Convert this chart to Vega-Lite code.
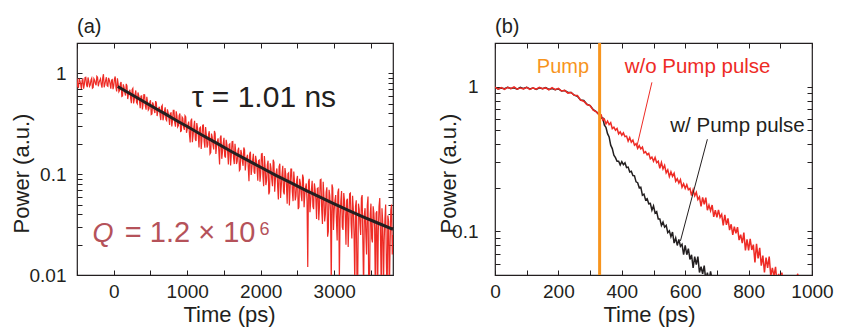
{
"$schema": "https://vega.github.io/schema/vega-lite/v6.json",
"background": "white",
"padding": {"left": 9, "top": 16, "right": 26, "bottom": 3},
"config": {
 "font": "Liberation Sans",
 "view": {"stroke": "#231f20", "strokeWidth": 1.2},
 "axis": {"domain": false, "grid": false, "tickColor": "#231f20", "tickWidth": 1, "tickSize": -5, "labelColor": "#231f20", "titleColor": "#231f20", "labelFont": "Liberation Sans", "titleFont": "Liberation Sans", "labelFontSize": 19, "titleFontSize": 22, "titleFontWeight": "normal", "labelOverlap": false, "labelFlush": false, "labelBound": false},
 "title": {"font": "Liberation Sans", "fontSize": 20, "fontWeight": "normal", "color": "#231f20", "anchor": "start", "frame": "group", "offset": 8, "dy": 11}
},
"datasets": {
 "a_trace": [
{"t":-500,"p":0.894},{"t":-490,"p":0.738},{"t":-480,"p":0.727},{"t":-470,"p":0.883},{"t":-460,"p":0.842},{"t":-450,"p":0.781},{"t":-440,"p":0.700},{"t":-430,"p":0.859},{"t":-420,"p":0.873},{"t":-410,"p":0.705},{"t":-400,"p":0.778},{"t":-390,"p":0.910},{"t":-380,"p":0.915},{"t":-370,"p":0.770},{"t":-360,"p":0.730},{"t":-350,"p":0.910},{"t":-340,"p":0.836},{"t":-330,"p":0.743},{"t":-320,"p":0.767},{"t":-310,"p":0.863},{"t":-300,"p":0.895},{"t":-290,"p":0.713},{"t":-280,"p":0.724},{"t":-270,"p":0.886},{"t":-260,"p":0.857},{"t":-250,"p":0.793},{"t":-240,"p":0.761},{"t":-230,"p":0.935},{"t":-220,"p":0.916},{"t":-210,"p":0.744},{"t":-200,"p":0.808},{"t":-190,"p":0.852},{"t":-180,"p":0.884},{"t":-170,"p":0.776},{"t":-160,"p":0.722},{"t":-150,"p":0.902},{"t":-140,"p":0.98},{"t":-130,"p":0.728},{"t":-120,"p":0.782},{"t":-110,"p":0.854},{"t":-100,"p":0.916},{"t":-90,"p":0.756},{"t":-80,"p":0.745},{"t":-70,"p":0.902},{"t":-60,"p":0.857},{"t":-50,"p":0.791},{"t":-40,"p":0.705},{"t":-30,"p":0.859},{"t":-20,"p":0.868},{"t":-10,"p":0.698},
{"t":0,"p":0.757},{"t":10,"p":0.88},{"t":20,"p":0.932},{"t":30,"p":0.726},{"t":40,"p":0.663},{"t":50,"p":0.891},{"t":60,"p":0.787},{"t":70,"p":0.657},{"t":80,"p":0.678},{"t":90,"p":0.790},{"t":100,"p":0.822},{"t":110,"p":0.590},{"t":120,"p":0.597},{"t":130,"p":0.779},{"t":140,"p":0.731},{"t":150,"p":0.648},{"t":160,"p":0.603},{"t":170,"p":0.787},{"t":180,"p":0.753},{"t":190,"p":0.556},{"t":200,"p":0.619},{"t":210,"p":0.659},{"t":220,"p":0.687},{"t":230,"p":0.568},{"t":240,"p":0.507},{"t":250,"p":0.689},{"t":260,"p":0.710},{"t":270,"p":0.503},{"t":280,"p":0.551},{"t":290,"p":0.620},{"t":300,"p":0.677},{"t":310,"p":0.515},{"t":320,"p":0.500},{"t":330,"p":0.647},{"t":340,"p":0.601},{"t":350,"p":0.535},{"t":360,"p":0.451},{"t":370,"p":0.594},{"t":380,"p":0.598},{"t":390,"p":0.438},{"t":400,"p":0.500},{"t":410,"p":0.614},{"t":420,"p":0.612},{"t":430,"p":0.477},{"t":440,"p":0.436},{"t":450,"p":0.586},{"t":460,"p":0.517},{"t":470,"p":0.432},{"t":480,"p":0.445},{"t":490,"p":0.519},
{"t":500,"p":0.540},{"t":510,"p":0.390},{"t":520,"p":0.395},{"t":530,"p":0.516},{"t":540,"p":0.487},{"t":550,"p":0.432},{"t":560,"p":0.404},{"t":570,"p":0.530},{"t":580,"p":0.509},{"t":590,"p":0.377},{"t":600,"p":0.420},{"t":610,"p":0.448},{"t":620,"p":0.467},{"t":630,"p":0.386},{"t":640,"p":0.344},{"t":650,"p":0.468},{"t":660,"p":0.482},{"t":670,"p":0.342},{"t":680,"p":0.375},{"t":690,"p":0.422},{"t":700,"p":0.460},{"t":710,"p":0.350},{"t":720,"p":0.340},{"t":730,"p":0.440},{"t":740,"p":0.408},{"t":750,"p":0.363},{"t":760,"p":0.307},{"t":770,"p":0.403},{"t":780,"p":0.406},{"t":790,"p":0.297},{"t":800,"p":0.340},{"t":810,"p":0.43},{"t":820,"p":0.43},{"t":830,"p":0.324},{"t":840,"p":0.296},{"t":850,"p":0.42},{"t":860,"p":0.38},{"t":870,"p":0.294},{"t":880,"p":0.303},{"t":890,"p":0.38},{"t":900,"p":0.40},{"t":910,"p":0.265},{"t":920,"p":0.268},{"t":930,"p":0.37},{"t":940,"p":0.36},{"t":950,"p":0.294},{"t":960,"p":0.275},{"t":970,"p":0.38},{"t":980,"p":0.37},{"t":990,"p":0.257},
{"t":1000,"p":0.280},{"t":1010,"p":0.310},{"t":1020,"p":0.332},{"t":1030,"p":0.248},{"t":1040,"p":0.206},{"t":1050,"p":0.338},{"t":1060,"p":0.356},{"t":1070,"p":0.208},{"t":1080,"p":0.244},{"t":1090,"p":0.295},{"t":1100,"p":0.338},{"t":1110,"p":0.222},{"t":1120,"p":0.213},{"t":1130,"p":0.321},{"t":1140,"p":0.289},{"t":1150,"p":0.243},{"t":1160,"p":0.184},{"t":1170,"p":0.287},{"t":1180,"p":0.292},{"t":1190,"p":0.178},{"t":1200,"p":0.224},{"t":1210,"p":0.306},{"t":1220,"p":0.307},{"t":1230,"p":0.211},{"t":1240,"p":0.183},{"t":1250,"p":0.293},{"t":1260,"p":0.245},{"t":1270,"p":0.184},{"t":1280,"p":0.195},{"t":1290,"p":0.250},{"t":1300,"p":0.267},{"t":1310,"p":0.159},{"t":1320,"p":0.164},{"t":1330,"p":0.253},{"t":1340,"p":0.233},{"t":1350,"p":0.195},{"t":1360,"p":0.176},{"t":1370,"p":0.268},{"t":1380,"p":0.253},{"t":1390,"p":0.159},{"t":1400,"p":0.192},{"t":1410,"p":0.212},{"t":1420,"p":0.227},{"t":1430,"p":0.169},{"t":1440,"p":0.125},{"t":1450,"p":0.231},{"t":1460,"p":0.242},{"t":1470,"p":0.142},{"t":1480,"p":0.167},{"t":1490,"p":0.202},
{"t":1500,"p":0.230},{"t":1510,"p":0.151},{"t":1520,"p":0.146},{"t":1530,"p":0.219},{"t":1540,"p":0.197},{"t":1550,"p":0.166},{"t":1560,"p":0.125},{"t":1570,"p":0.197},{"t":1580,"p":0.200},{"t":1590,"p":0.122},{"t":1600,"p":0.154},{"t":1610,"p":0.210},{"t":1620,"p":0.211},{"t":1630,"p":0.145},{"t":1640,"p":0.126},{"t":1650,"p":0.200},{"t":1660,"p":0.168},{"t":1670,"p":0.126},{"t":1680,"p":0.134},{"t":1690,"p":0.171},{"t":1700,"p":0.183},{"t":1710,"p":0.109},{"t":1720,"p":0.112},{"t":1730,"p":0.174},{"t":1740,"p":0.160},{"t":1750,"p":0.134},{"t":1760,"p":0.121},{"t":1770,"p":0.184},{"t":1780,"p":0.174},{"t":1790,"p":0.109},{"t":1800,"p":0.132},{"t":1810,"p":0.146},{"t":1820,"p":0.156},{"t":1830,"p":0.117},{"t":1840,"p":0.085},{"t":1850,"p":0.159},{"t":1860,"p":0.167},{"t":1870,"p":0.098},{"t":1880,"p":0.115},{"t":1890,"p":0.139},{"t":1900,"p":0.159},{"t":1910,"p":0.105},{"t":1920,"p":0.101},{"t":1930,"p":0.152},{"t":1940,"p":0.137},{"t":1950,"p":0.114},{"t":1960,"p":0.086},{"t":1970,"p":0.136},{"t":1980,"p":0.138},{"t":1990,"p":0.084},
{"t":2000,"p":0.102},{"t":2010,"p":0.159},{"t":2020,"p":0.160},{"t":2030,"p":0.095},{"t":2040,"p":0.076},{"t":2050,"p":0.151},{"t":2060,"p":0.119},{"t":2070,"p":0.078},{"t":2080,"p":0.086},{"t":2090,"p":0.124},{"t":2100,"p":0.136},{"t":2110,"p":0.063},{"t":2120,"p":0.067},{"t":2130,"p":0.128},{"t":2140,"p":0.114},{"t":2150,"p":0.089},{"t":2160,"p":0.076},{"t":2170,"p":0.139},{"t":2180,"p":0.131},{"t":2190,"p":0.067},{"t":2200,"p":0.089},{"t":2210,"p":0.104},{"t":2220,"p":0.114},{"t":2230,"p":0.076},{"t":2240,"p":0.056},{"t":2250,"p":0.119},{"t":2260,"p":0.127},{"t":2270,"p":0.058},{"t":2280,"p":0.076},{"t":2290,"p":0.100},{"t":2300,"p":0.121},{"t":2310,"p":0.067},{"t":2320,"p":0.063},{"t":2330,"p":0.115},{"t":2340,"p":0.100},{"t":2350,"p":0.078},{"t":2360,"p":0.051},{"t":2370,"p":0.101},{"t":2380,"p":0.103},{"t":2390,"p":0.049},{"t":2400,"p":0.072},{"t":2410,"p":0.112},{"t":2420,"p":0.112},{"t":2430,"p":0.067},{"t":2440,"p":0.054},{"t":2450,"p":0.106},{"t":2460,"p":0.084},{"t":2470,"p":0.055},{"t":2480,"p":0.061},{"t":2490,"p":0.088},
{"t":2500,"p":0.096},{"t":2510,"p":0.045},{"t":2520,"p":0.047},{"t":2530,"p":0.090},{"t":2540,"p":0.081},{"t":2550,"p":0.063},{"t":2560,"p":0.054},{"t":2570,"p":0.099},{"t":2580,"p":0.092},{"t":2590,"p":0.047},{"t":2600,"p":0.063},{"t":2610,"p":0.074},{"t":2620,"p":0.081},{"t":2630,"p":0.054},{"t":2640,"p":0.012},{"t":2650,"p":0.084},{"t":2660,"p":0.090},{"t":2670,"p":0.042},{"t":2680,"p":0.054},{"t":2690,"p":0.071},{"t":2700,"p":0.086},{"t":2710,"p":0.048},{"t":2720,"p":0.045},{"t":2730,"p":0.081},{"t":2740,"p":0.071},{"t":2750,"p":0.056},{"t":2760,"p":0.036},{"t":2770,"p":0.072},{"t":2780,"p":0.073},{"t":2790,"p":0.035},{"t":2800,"p":0.049},{"t":2810,"p":0.088},{"t":2820,"p":0.089},{"t":2830,"p":0.044},{"t":2840,"p":0.032},{"t":2850,"p":0.084},{"t":2860,"p":0.061},{"t":2870,"p":0.034},{"t":2880,"p":0.040},{"t":2890,"p":0.066},{"t":2900,"p":0.074},{"t":2910,"p":0.024},{"t":2920,"p":0.027},{"t":2930,"p":0.070},{"t":2940,"p":0.061},{"t":2950,"p":0.043},{"t":2960,"p":0.008},{"t":2970,"p":0.079},{"t":2980,"p":0.073},{"t":2990,"p":0.028},
{"t":3000,"p":0.044},{"t":3010,"p":0.055},{"t":3020,"p":0.062},{"t":3030,"p":0.035},{"t":3040,"p":0.022},{"t":3050,"p":0.066},{"t":3060,"p":0.072},{"t":3070,"p":0.009},{"t":3080,"p":0.036},{"t":3090,"p":0.054},{"t":3100,"p":0.068},{"t":3110,"p":0.030},{"t":3120,"p":0.028},{"t":3130,"p":0.065},{"t":3140,"p":0.054},{"t":3150,"p":0.039},{"t":3160,"p":0.020},{"t":3170,"p":0.055},{"t":3180,"p":0.057},{"t":3190,"p":0.019},{"t":3200,"p":0.035},{"t":3210,"p":0.064},{"t":3220,"p":0.065},{"t":3230,"p":0.032},{"t":3240,"p":0.023},{"t":3250,"p":0.061},{"t":3260,"p":0.045},{"t":3270,"p":0.025},{"t":3280,"p":0.008},{"t":3290,"p":0.048},{"t":3300,"p":0.055},{"t":3310,"p":0.008},{"t":3320,"p":0.009},{"t":3330,"p":0.051},{"t":3340,"p":0.045},{"t":3350,"p":0.032},{"t":3360,"p":0.025},{"t":3370,"p":0.058},{"t":3380,"p":0.062},{"t":3390,"p":0.021},{"t":3400,"p":0.007},{"t":3410,"p":0.040},{"t":3420,"p":0.046},{"t":3430,"p":0.026},{"t":3440,"p":0.016},{"t":3450,"p":0.049},{"t":3460,"p":0.060},{"t":3470,"p":0.007},{"t":3480,"p":0.006},{"t":3490,"p":0.040},
{"t":3500,"p":0.051},{"t":3510,"p":0.023},{"t":3520,"p":0.021},{"t":3530,"p":0.048},{"t":3540,"p":0.041},{"t":3550,"p":0.029},{"t":3560,"p":0.006},{"t":3570,"p":0.041},{"t":3580,"p":0.043},{"t":3590,"p":0.006},{"t":3600,"p":0.027},{"t":3610,"p":0.048},{"t":3620,"p":0.058},{"t":3630,"p":0.024},{"t":3640,"p":0.007},{"t":3650,"p":0.046},{"t":3660,"p":0.034},{"t":3670,"p":0.007},{"t":3680,"p":0.022},{"t":3690,"p":0.036},{"t":3700,"p":0.050},{"t":3710,"p":0.013},{"t":3720,"p":0.006},{"t":3730,"p":0.039},{"t":3740,"p":0.034},{"t":3750,"p":0.006},{"t":3760,"p":0.019},{"t":3770,"p":0.044},{"t":3780,"p":0.050},{"t":3790,"p":0.016},{"t":3800,"p":0.025}
 ],
 "a_fit": [
{"t":55,"p":0.74},{"t":100,"p":0.708},{"t":200,"p":0.642},{"t":300,"p":0.583},{"t":400,"p":0.529},{"t":500,"p":0.480},{"t":600,"p":0.436},{"t":700,"p":0.396},{"t":800,"p":0.359},{"t":900,"p":0.326},{"t":1000,"p":0.297},{"t":1200,"p":0.245},{"t":1400,"p":0.203},{"t":1600,"p":0.168},{"t":1800,"p":0.140},{"t":2000,"p":0.117},{"t":2200,"p":0.098},{"t":2400,"p":0.083},{"t":2600,"p":0.070},{"t":2800,"p":0.0595},{"t":3000,"p":0.0508},{"t":3200,"p":0.0436},{"t":3400,"p":0.0376},{"t":3600,"p":0.0326},{"t":3800,"p":0.0284}
 ],
 "b_black": [
{"t":0,"p":0.985},{"t":10,"p":0.962},{"t":20,"p":0.979},{"t":30,"p":0.966},{"t":40,"p":0.987},{"t":50,"p":0.972},{"t":60,"p":0.982},{"t":70,"p":0.960},{"t":80,"p":0.989},{"t":90,"p":0.969},{"t":100,"p":0.988},{"t":110,"p":0.964},{"t":120,"p":0.979},{"t":130,"p":0.957},{"t":140,"p":0.980},{"t":150,"p":0.966},{"t":160,"p":0.984},{"t":170,"p":0.955},{"t":180,"p":0.968},{"t":190,"p":0.953},{"t":200,"p":0.965},{"t":210,"p":0.932},{"t":220,"p":0.939},{"t":230,"p":0.912},{"t":240,"p":0.911},{"t":250,"p":0.872},{"t":260,"p":0.856},{"t":270,"p":0.808},{"t":280,"p":0.801},{"t":290,"p":0.755},{"t":300,"p":0.740},{"t":310,"p":0.693},{"t":320,"p":0.669},{"t":330,"p":0.635},
{"t":335,"p":0.605},{"t":340,"p":0.608},{"t":345,"p":0.542},{"t":350,"p":0.523},{"t":355,"p":0.473},{"t":360,"p":0.449},{"t":365,"p":0.394},{"t":370,"p":0.373},{"t":375,"p":0.336},{"t":380,"p":0.323},{"t":385,"p":0.305},{"t":390,"p":0.305},{"t":395,"p":0.288},{"t":400,"p":0.303},{"t":405,"p":0.289},{"t":410,"p":0.298},{"t":415,"p":0.276},{"t":420,"p":0.278},{"t":425,"p":0.257},{"t":430,"p":0.260},{"t":435,"p":0.243},{"t":440,"p":0.242},{"t":445,"p":0.220},{"t":450,"p":0.217},
{"t":455,"p":0.200},{"t":460,"p":0.202},{"t":465,"p":0.178},{"t":470,"p":0.181},{"t":475,"p":0.165},{"t":480,"p":0.168},{"t":485,"p":0.155},{"t":490,"p":0.156},{"t":495,"p":0.140},{"t":500,"p":0.150},{"t":505,"p":0.134},{"t":510,"p":0.137},{"t":515,"p":0.122},{"t":520,"p":0.122},{"t":525,"p":0.110},{"t":530,"p":0.116},{"t":535,"p":0.107},{"t":540,"p":0.110},{"t":545,"p":0.098},{"t":550,"p":0.101},{"t":555,"p":0.092},{"t":560,"p":0.099},{"t":565,"p":0.083},{"t":570,"p":0.090},{"t":575,"p":0.080},
{"t":580,"p":0.088},{"t":585,"p":0.079},{"t":590,"p":0.0815},{"t":595,"p":0.069},{"t":600,"p":0.080},{"t":605,"p":0.069},{"t":610,"p":0.076},{"t":615,"p":0.064},{"t":620,"p":0.069},{"t":625,"p":0.056},{"t":630,"p":0.067},{"t":635,"p":0.059},{"t":640,"p":0.067},{"t":645,"p":0.052},{"t":650,"p":0.057},{"t":655,"p":0.051},{"t":660,"p":0.058},{"t":665,"p":0.046},{"t":670,"p":0.052},{"t":675,"p":0.045},{"t":680,"p":0.053},{"t":685,"p":0.046},{"t":690,"p":0.049},{"t":695,"p":0.039},{"t":700,"p":0.049},{"t":705,"p":0.040}
 ],
 "b_red": [
{"t":0,"p":0.993},{"t":10,"p":0.961},{"t":20,"p":0.983},{"t":30,"p":0.956},{"t":40,"p":0.987},{"t":50,"p":0.969},{"t":60,"p":0.995},{"t":70,"p":0.959},{"t":80,"p":0.979},{"t":90,"p":0.965},{"t":100,"p":0.989},{"t":110,"p":0.956},{"t":120,"p":0.979},{"t":130,"p":0.960},{"t":140,"p":0.987},{"t":150,"p":0.966},{"t":160,"p":0.979},{"t":170,"p":0.948},{"t":180,"p":0.983},{"t":190,"p":0.952},{"t":200,"p":0.972},{"t":210,"p":0.932},{"t":220,"p":0.942},{"t":230,"p":0.902},{"t":240,"p":0.911},{"t":250,"p":0.870},{"t":260,"p":0.867},{"t":270,"p":0.807},{"t":280,"p":0.793},{"t":290,"p":0.752},{"t":300,"p":0.740},{"t":310,"p":0.687},{"t":320,"p":0.669},{"t":330,"p":0.635},
{"t":335,"p":0.638},{"t":340,"p":0.586},{"t":345,"p":0.598},{"t":350,"p":0.552},{"t":355,"p":0.578},{"t":360,"p":0.546},{"t":365,"p":0.563},{"t":370,"p":0.513},{"t":375,"p":0.524},{"t":380,"p":0.500},{"t":385,"p":0.514},{"t":390,"p":0.472},{"t":395,"p":0.487},{"t":400,"p":0.462},{"t":405,"p":0.479},{"t":410,"p":0.451},{"t":415,"p":0.455},{"t":420,"p":0.420},{"t":425,"p":0.445},{"t":430,"p":0.413},{"t":435,"p":0.427},{"t":440,"p":0.394},{"t":445,"p":0.404},{"t":450,"p":0.374},
{"t":455,"p":0.391},{"t":460,"p":0.371},{"t":465,"p":0.382},{"t":470,"p":0.348},{"t":475,"p":0.355},{"t":480,"p":0.338},{"t":485,"p":0.346},{"t":490,"p":0.317},{"t":495,"p":0.326},{"t":500,"p":0.305},{"t":505,"p":0.324},{"t":510,"p":0.298},{"t":515,"p":0.305},{"t":520,"p":0.273},{"t":525,"p":0.299},{"t":530,"p":0.270},{"t":535,"p":0.286},{"t":540,"p":0.254},{"t":545,"p":0.266},{"t":550,"p":0.239},{"t":555,"p":0.258},{"t":560,"p":0.240},{"t":565,"p":0.252},{"t":570,"p":0.222},{"t":575,"p":0.231},
{"t":580,"p":0.216},{"t":585,"p":0.228},{"t":590,"p":0.202},{"t":595,"p":0.213},{"t":600,"p":0.198},{"t":605,"p":0.210},{"t":610,"p":0.194},{"t":615,"p":0.198},{"t":620,"p":0.177},{"t":625,"p":0.194},{"t":630,"p":0.176},{"t":635,"p":0.186},{"t":640,"p":0.166},{"t":645,"p":0.173},{"t":650,"p":0.149},{"t":655,"p":0.172},{"t":660,"p":0.154},{"t":665,"p":0.171},{"t":670,"p":0.140},{"t":675,"p":0.152},{"t":680,"p":0.139},{"t":685,"p":0.152},{"t":690,"p":0.126},{"t":695,"p":0.140},{"t":700,"p":0.125},
{"t":705,"p":0.141},{"t":710,"p":0.125},{"t":715,"p":0.131},{"t":720,"p":0.110},{"t":725,"p":0.130},{"t":730,"p":0.111},{"t":735,"p":0.123},{"t":740,"p":0.102},{"t":745,"p":0.112},{"t":750,"p":0.0945},{"t":755,"p":0.108},{"t":760,"p":0.097},{"t":765,"p":0.107},{"t":770,"p":0.087},{"t":775,"p":0.095},{"t":780,"p":0.083},{"t":785,"p":0.098},{"t":790,"p":0.074},{"t":795,"p":0.088},{"t":800,"p":0.074},{"t":805,"p":0.089},{"t":810,"p":0.0745},{"t":815,"p":0.081},{"t":820,"p":0.061},{"t":825,"p":0.082},
{"t":830,"p":0.065},{"t":835,"p":0.077},{"t":840,"p":0.058},{"t":845,"p":0.068},{"t":850,"p":0.052},{"t":855,"p":0.066},{"t":860,"p":0.056},{"t":865,"p":0.067},{"t":870,"p":0.049},{"t":875,"p":0.056},{"t":880,"p":0.049},{"t":885,"p":0.057},{"t":890,"p":0.043},{"t":895,"p":0.051},{"t":900,"p":0.043},{"t":905,"p":0.052},{"t":910,"p":0.042},{"t":915,"p":0.047},{"t":920,"p":0.040},{"t":930,"p":0.044},{"t":940,"p":0.038},{"t":955,"p":0.051},{"t":960,"p":0.040}
 ]
},
"spacing": 102,
"bounds": "flush",
"hconcat": [
 {
  "width": 316, "height": 232,
  "title": {"text": "(a)"},
  "resolve": {"axis": {"x": "independent", "y": "independent"}},
  "layer": [
   {"data": {"name": "a_trace"},
    "mark": {"type": "line", "color": "#ee2b25", "strokeWidth": 1.2, "clip": true},
    "encoding": {
     "x": {"field": "t", "type": "quantitative", "scale": {"domain": [-500, 3800], "nice": false, "zero": false},
      "axis": {"orient": "bottom", "values": [-500,0,500,1000,1500,2000,2500,3000,3500], "format": "d", "labelExpr": "datum.value >= 0 && datum.value % 1000 == 0 ? datum.label : ''", "tickSize": -5, "labelPadding": 12, "title": "Time (ps)", "titleFontWeight": "normal", "titleBaseline": "alphabetic", "titleX": 152, "titleY": 46}},
     "y": {"field": "p", "type": "quantitative", "scale": {"type": "log", "domain": [0.01, 2], "nice": false},
      "axis": {"orient": "left", "values": [0.01,0.02,0.03,0.04,0.05,0.06,0.07,0.08,0.09,0.1,0.2,0.3,0.4,0.5,0.6,0.7,0.8,0.9,1,2], "format": "~g", "labelExpr": "datum.value == 0.01 || datum.value == 0.1 || datum.value == 1 ? datum.label : ''", "tickSize": -5, "labelPadding": 16, "title": "Power (a.u.)", "titleFontWeight": "normal", "titleX": -44, "titleY": 130}}
    }},
   {"data": {"name": "a_fit"},
    "mark": {"type": "line", "color": "#231f20", "strokeWidth": 3, "clip": true},
    "encoding": {
     "x": {"field": "t", "type": "quantitative", "axis": {"orient": "top", "values": [-500,0,500,1000,1500,2000,2500,3000,3500], "tickSize": -5, "labels": false, "title": null}},
     "y": {"field": "p", "type": "quantitative", "axis": {"orient": "right", "values": [0.01,0.02,0.03,0.04,0.05,0.06,0.07,0.08,0.09,0.1,0.2,0.3,0.4,0.5,0.6,0.7,0.8,0.9,1,2], "tickSize": -5, "labels": false, "title": null}}
    }},
   {"data": {"values": [{}]},
    "mark": {"type": "text", "text": "τ = 1.01 ns", "align": "left", "baseline": "alphabetic", "fontSize": 30, "color": "#231f20"},
    "encoding": {"x": {"datum": 1060, "type": "quantitative", "axis": null}, "y": {"datum": 0.46, "type": "quantitative", "axis": null}}},
   {"data": {"values": [{}]},
    "mark": {"type": "text", "text": "Q", "align": "left", "baseline": "alphabetic", "fontSize": 27, "fontStyle": "italic", "color": "#b5525a"},
    "encoding": {"x": {"datum": -290, "type": "quantitative", "axis": null}, "y": {"datum": 0.0211, "type": "quantitative", "axis": null}}},
   {"data": {"values": [{}]},
    "mark": {"type": "text", "text": "= 1.2 × 10", "align": "center", "baseline": "alphabetic", "fontSize": 29, "color": "#b5525a"},
    "encoding": {"x": {"datum": 1040, "type": "quantitative", "axis": null}, "y": {"datum": 0.0211, "type": "quantitative", "axis": null}}},
   {"data": {"values": [{}]},
    "mark": {"type": "text", "text": "6", "align": "left", "baseline": "alphabetic", "fontSize": 18, "color": "#b5525a"},
    "encoding": {"x": {"datum": 1985, "type": "quantitative", "axis": null}, "y": {"datum": 0.0252, "type": "quantitative", "axis": null}}}
  ]
 },
 {
  "width": 317, "height": 232,
  "title": {"text": "(b)"},
  "resolve": {"axis": {"x": "independent", "y": "independent"}},
  "layer": [
   {"data": {"name": "b_black"},
    "mark": {"type": "line", "color": "#231f20", "strokeWidth": 1.5, "clip": true},
    "encoding": {
     "x": {"field": "t", "type": "quantitative", "scale": {"domain": [0, 1000], "nice": false, "zero": false},
      "axis": {"orient": "bottom", "values": [0,100,200,300,400,500,600,700,800,900,1000], "format": "d", "labelExpr": "datum.value % 200 == 0 ? datum.label : ''", "tickSize": -5, "labelPadding": 12, "title": "Time (ps)", "titleFontWeight": "normal", "titleBaseline": "alphabetic", "titleX": 154, "titleY": 46}},
     "y": {"field": "p", "type": "quantitative", "scale": {"type": "log", "domain": [0.05, 2], "nice": false},
      "axis": {"orient": "left", "values": [0.05,0.06,0.07,0.08,0.09,0.1,0.2,0.3,0.4,0.5,0.6,0.7,0.8,0.9,1,2], "format": "~g", "labelExpr": "datum.value == 0.1 || datum.value == 1 ? datum.label : ''", "tickSize": -5, "labelPadding": 22, "title": "Power (a.u.)", "titleFontWeight": "normal", "titleX": -35, "titleY": 130}}
    }},
   {"data": {"name": "b_red"},
    "mark": {"type": "line", "color": "#ee2b25", "strokeWidth": 1.5, "clip": true},
    "encoding": {
     "x": {"field": "t", "type": "quantitative", "axis": {"orient": "top", "values": [0,100,200,300,400,500,600,700,800,900,1000], "tickSize": -5, "labels": false, "title": null}},
     "y": {"field": "p", "type": "quantitative", "axis": {"orient": "right", "values": [0.05,0.06,0.07,0.08,0.09,0.1,0.2,0.3,0.4,0.5,0.6,0.7,0.8,0.9,1,2], "tickSize": -5, "labels": false, "title": null}}
    }},
   {"data": {"values": [{}]},
    "mark": {"type": "rule", "color": "#f7941d", "strokeWidth": 3},
    "encoding": {"x": {"datum": 330, "type": "quantitative", "axis": null}}},
   {"data": {"values": [{}]},
    "mark": {"type": "rule", "color": "#ee2b25", "strokeWidth": 1},
    "encoding": {"x": {"datum": 495, "type": "quantitative", "axis": null}, "y": {"datum": 1.07, "type": "quantitative", "axis": null}, "x2": {"datum": 448}, "y2": {"datum": 0.39}}},
   {"data": {"values": [{}]},
    "mark": {"type": "rule", "color": "#231f20", "strokeWidth": 1},
    "encoding": {"x": {"datum": 670, "type": "quantitative", "axis": null}, "y": {"datum": 0.433, "type": "quantitative", "axis": null}, "x2": {"datum": 585}, "y2": {"datum": 0.086}}},
   {"data": {"values": [{}]},
    "mark": {"type": "text", "text": "Pump", "align": "left", "baseline": "alphabetic", "fontSize": 20, "color": "#f7941d"},
    "encoding": {"x": {"datum": 132, "type": "quantitative", "axis": null}, "y": {"datum": 1.249, "type": "quantitative", "axis": null}}},
   {"data": {"values": [{}]},
    "mark": {"type": "text", "text": "w/o Pump pulse", "align": "left", "baseline": "alphabetic", "fontSize": 20.5, "color": "#ee2b25"},
    "encoding": {"x": {"datum": 409, "type": "quantitative", "axis": null}, "y": {"datum": 1.249, "type": "quantitative", "axis": null}}},
   {"data": {"values": [{}]},
    "mark": {"type": "text", "text": "w/ Pump pulse", "align": "left", "baseline": "alphabetic", "fontSize": 20.5, "color": "#231f20"},
    "encoding": {"x": {"datum": 553, "type": "quantitative", "axis": null}, "y": {"datum": 0.482, "type": "quantitative", "axis": null}}}
  ]
 }
]
}
